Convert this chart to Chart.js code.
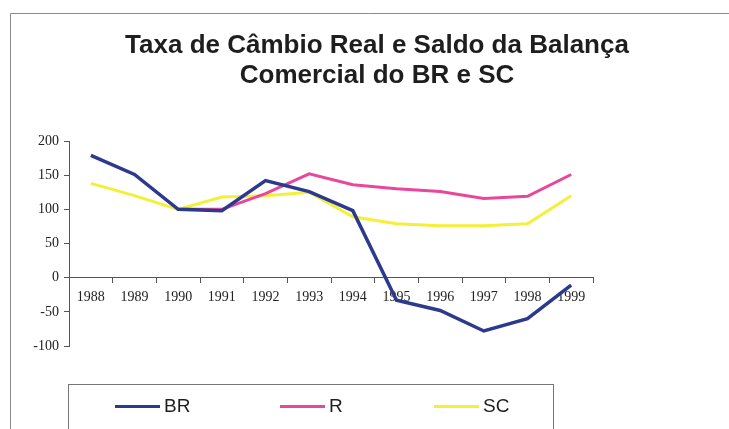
<!DOCTYPE html>
<html>
<head>
<meta charset="utf-8">
<script src="https://cdn.jsdelivr.net/npm/chart.js@4"></script>
<style>
  html, body { margin: 0; padding: 0; background: #fff; }
  #wrap { width: 729px; height: 429px; position: relative; }
</style>
</head>
<body>
<div id="wrap"><canvas id="myChart"></canvas></div>
<script>
const years = ["1988", "1989", "1990", "1991", "1992", "1993", "1994", "1995", "1996", "1997", "1998", "1999"];
const brValues = [179, 151, 100, 98, 142, 126, 98, -33, -48, -78, -60, -11];
const rValues = [null, null, 100, 100, 123, 152, 136, 130, 126, 116, 119, 151];
const scValues = [138, 120, 100, 118, 120, 125, 89, 79, 76, 76, 79, 120];
const yTicks = [200, 150, 100, 50, 0, -50, -100];
const titleLines = ["Taxa de Câmbio Real e Saldo da Balança", "Comercial do BR e SC"];

// frame, title and the boxed legend like the old spreadsheet chart
const decor = {
  id: "decor",
  beforeDraw(chart) {
    const c = chart.ctx;
    c.save();
    c.strokeStyle = "#8a8a8a";
    c.lineWidth = 1;
    c.beginPath();
    c.moveTo(10.5, 429);
    c.lineTo(10.5, 13.5);
    c.lineTo(729, 13.5);
    c.stroke();
    c.restore();
  },
  afterDraw(chart) {
    const c = chart.ctx;
    c.save();
    c.fillStyle = "#1e1e1e";
    c.font = "bold 26px 'Liberation Sans', Arial, sans-serif";
    c.textAlign = "center";
    c.textBaseline = "alphabetic";
    c.fillText(titleLines[0], 377, 53);
    c.fillText(titleLines[1], 377, 83);

    // legend box
    c.strokeStyle = "#777";
    c.lineWidth = 1;
    c.strokeRect(68.5, 384.5, 485, 60);
    const xs = [115, 280, 434];
    c.font = "19px 'Liberation Sans', Arial, sans-serif";
    c.textAlign = "left";
    c.textBaseline = "middle";
    chart.data.datasets.forEach((ds, i) => {
      c.strokeStyle = ds.borderColor;
      c.lineWidth = 3;
      c.beginPath();
      c.moveTo(xs[i], 406.5);
      c.lineTo(xs[i] + 45, 406.5);
      c.stroke();
      c.fillStyle = "#1e1e1e";
      c.fillText(ds.label, xs[i] + 49, 407);
    });
    c.restore();
  }
};

const ctx = document.getElementById("myChart");
const myChart = new Chart(ctx, {
  type: "line",
  data: {
    labels: years,
    datasets: [
      { label: "BR", data: brValues, borderColor: "#2c3a8e", borderWidth: 3.5 },
      { label: "R", data: rValues, borderColor: "#e8479c", borderWidth: 3 },
      { label: "SC", data: scValues, borderColor: "#f4f03a", borderWidth: 3 }
    ]
  },
  options: {
    responsive: true,
    maintainAspectRatio: false,
    animation: false,
    layout: { padding: { top: 141, left: 19, right: 136, bottom: 83 } },
    elements: { point: { radius: 0 }, line: { tension: 0 } },
    plugins: {
      legend: { display: false },
      title: { display: false },
      tooltip: { enabled: false }
    },
    scales: {
      x: {
        position: { y: 0 },
        offset: true,
        border: { color: "#555", width: 1 },
        grid: { offset: true, drawOnChartArea: false, tickLength: 5, color: "#555" },
        ticks: {
          color: "#222",
          padding: 6,
          maxRotation: 0,
          font: { family: "'Liberation Serif', 'Times New Roman', serif", size: 14 }
        }
      },
      y: {
        min: -100,
        max: 200,
        afterFit(scale) { scale.width = 50; },
        afterBuildTicks(scale) { scale.ticks = yTicks.map(v => ({ value: v })); },
        border: { color: "#555", width: 1 },
        grid: { drawOnChartArea: false, tickLength: 5, color: "#555" },
        ticks: {
          color: "#222",
          padding: 5,
          font: { family: "'Liberation Serif', 'Times New Roman', serif", size: 14 }
        }
      }
    }
  },
  plugins: [decor]
});
</script>
</body>
</html>
